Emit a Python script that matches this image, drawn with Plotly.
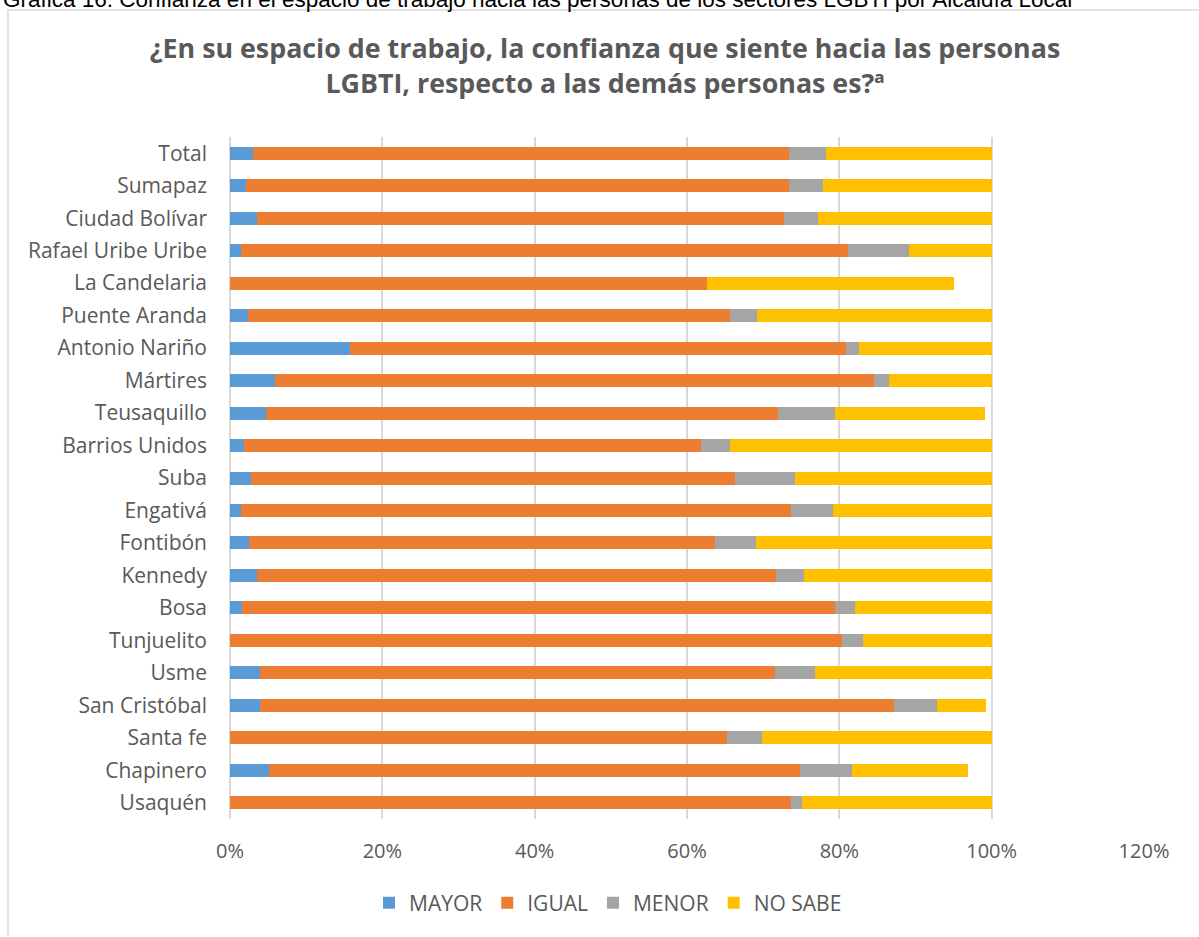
import plotly.graph_objects as go

categorias = ["Total", "Sumapaz", "Ciudad Bolívar", "Rafael Uribe Uribe", "La Candelaria",
              "Puente Aranda", "Antonio Nariño", "Mártires", "Teusaquillo", "Barrios Unidos",
              "Suba", "Engativá", "Fontibón", "Kennedy", "Bosa", "Tunjuelito", "Usme",
              "San Cristóbal", "Santa fe", "Chapinero", "Usaquén"]

mayor   = [3.0, 2.1, 3.6, 1.5, 0.0, 2.3, 15.8, 5.9, 4.7, 1.8, 2.8, 1.5, 2.5, 3.5, 1.6, 0.0, 3.9, 4.0, 0.0, 5.1, 0.0]
igual   = [70.4, 71.3, 69.1, 79.6, 62.6, 63.3, 65.1, 78.6, 67.2, 60.1, 63.5, 72.1, 61.2, 68.2, 77.8, 80.4, 67.7, 83.2, 65.2, 69.7, 73.6]
menor   = [4.8, 4.4, 4.5, 8.0, 0.0, 3.6, 1.7, 2.0, 7.5, 3.7, 7.9, 5.6, 5.3, 3.6, 2.7, 2.7, 5.2, 5.6, 4.6, 6.8, 1.5]
no_sabe = [21.8, 22.2, 22.8, 10.9, 32.5, 30.8, 17.4, 13.5, 19.7, 34.4, 25.8, 20.8, 31.0, 24.7, 17.9, 16.9, 23.2, 6.5, 30.2, 15.3, 24.9]

series = [("MAYOR", mayor, "#5B9BD5"), ("IGUAL", igual, "#ED7D31"),
          ("MENOR", menor, "#A5A5A5"), ("NO SABE", no_sabe, "#FFC000")]

fig = go.Figure()
for name, vals, color in series:
    fig.add_trace(go.Bar(
        y=categorias, x=[v / 100 for v in vals], name=name, orientation="h",
        marker=dict(color=color, line=dict(width=0)),
    ))

W, H = 1199, 937
L, R, T, B = 230, 55, 137, 118
pw, ph = W - L - R, H - T - B

def px_x(p):
    return (p - L) / pw

def px_y(p):
    return (H - B - p) / ph

fig.update_layout(
    width=W, height=H,
    barmode="stack", bargap=0.6,
    margin=dict(l=L, r=R, t=T, b=B),
    plot_bgcolor="white", paper_bgcolor="white",
    font=dict(family="Open Sans, sans-serif", color="#595959"),
    title=dict(
        text="¿En su espacio de trabajo, la confianza que siente hacia las personas<br>LGBTI, respecto a las demás personas es?ª",
        x=605 / W, xanchor="center", y=1 - 58 / H, yanchor="middle",
        font=dict(family="Open Sans, sans-serif", size=26.8, color="#595959", weight="bold"),
    ),
    xaxis=dict(
        range=[0, 1.2], dtick=0.2, tickformat=".0%",
        showgrid=True, gridcolor="#D9D9D9", gridwidth=2,
        zeroline=True, zerolinecolor="#D9D9D9", zerolinewidth=2,
        tickfont=dict(size=20, color="#595959"), ticks="", ticklabelstandoff=18,
        fixedrange=True,
    ),
    yaxis=dict(
        categoryorder="array", categoryarray=categorias, autorange="reversed",
        tickfont=dict(size=21, color="#595959"), ticks="", ticklabelstandoff=22,
        showgrid=False, fixedrange=True,
    ),
    legend=dict(
        orientation="h", x=px_x(608), xanchor="center", y=px_y(903), yanchor="middle",
        font=dict(size=21, color="#595959"), traceorder="normal",
        itemwidth=30, tracegroupgap=0,
    ),
    shapes=[dict(
        type="rect", xref="paper", yref="paper",
        x0=px_x(8), x1=px_x(1215), y0=px_y(945), y1=px_y(10),
        line=dict(color="#D9D9D9", width=1.5), fillcolor="rgba(0,0,0,0)", layer="below",
    )],
    annotations=[dict(
        text="Gráfica 16. Confianza en el espacio de trabajo hacia las personas de los sectores LGBTI por Alcaldía Local",
        xref="paper", yref="paper", x=px_x(1), xanchor="left", y=px_y(14), yanchor="bottom",
        showarrow=False, font=dict(family="Liberation Sans, Arial, sans-serif", size=22.5, color="#000000"),
    )],
)

fig.write_html("out.html", post_script="document.body.style.margin='0px';",
               config={"displayModeBar": False})
